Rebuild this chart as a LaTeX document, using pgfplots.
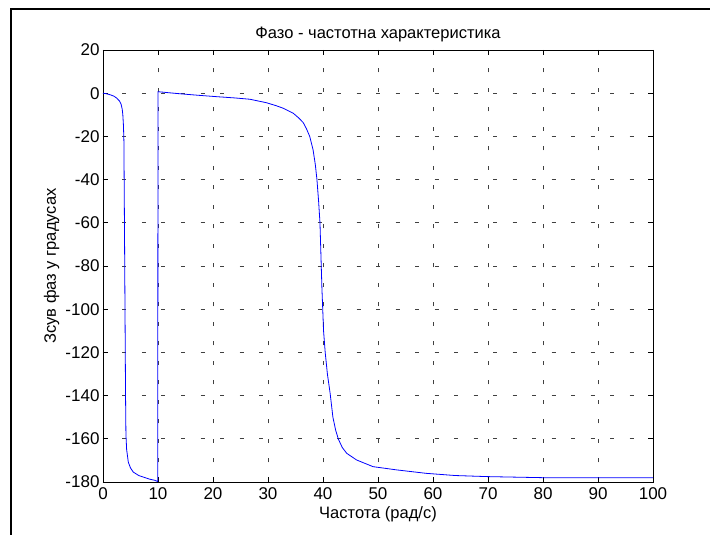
\documentclass[border=0pt]{standalone}
\usepackage{fontspec}
\setmainfont{Liberation Sans}
\usepackage{pgfplots}
\pgfplotsset{compat=1.18}
\begin{document}
\begin{tikzpicture}[x=1pt,y=1pt]
\useasboundingbox (0,0) rectangle (710,535);
\fill[white] (0,0) rectangle (710,535);
\draw[line width=2pt] (11,-20) -- (11,526) -- (730,526);
\begin{axis}[
  at={(103pt,53pt)}, anchor=south west,
  scale only axis,
  width=550pt, height=432pt,
  xmin=0, xmax=100, ymin=-180, ymax=20,
  xtick={0,10,...,100},
  xticklabels={0,10,20,30,40,50,60,70,80,90,100},
  ytick={-180,-160,...,20},
  yticklabels={-180,-160,-140,-120,-100,-80,-60,-40,-20,0,20},
  tick align=inside, tick pos=both,
  major tick length=5pt,
  every tick/.style={black, line width=0.6pt},
  axis line style={line width=0.8pt},
  grid=major,
  major grid style={black!75, line width=0.6pt, dash pattern=on 4pt off 15.5pt},
  font=\fontsize{16.5}{19}\selectfont,
  ticklabel style={font=\fontsize{17}{20}\selectfont},
  xticklabel style={yshift=-2pt},
  title={Фазо - частотна характеристика},
  title style={at={(axis description cs:0.5,1)}, anchor=base, yshift=5pt},
  xlabel={Частота (рад/с)},
  xlabel style={at={(axis description cs:0.5,0)}, anchor=base, yshift=-37pt},
  ylabel={Зсув фаз у градусах},
  ylabel style={at={(axis description cs:-0.0855,0.5)}, anchor=base},
]
\addplot[blue, line width=0.8pt] coordinates {
(0,0) (0.5,-0.2) (1,-0.5) (1.5,-0.9) (2,-1.4) (2.5,-2.3) (3,-3.6) (3.3,-5.2)
(3.5,-7.5) (3.6,-9.8) (3.72,-15) (3.8,-22) (3.9,-60) (4.0,-100) (4.1,-140)
(4.17,-158) (4.3,-165) (4.6,-170.8) (5,-173.5) (5.5,-175.4) (6.5,-177)
(7.3,-177.7) (8.5,-178.7) (9.4,-179.2) (9.95,-179.8)
(10.0,0.7) (12,0.2) (14.6,-0.4) (17,-0.9) (20.6,-1.6) (24,-2.2) (26.7,-2.8)
(29.7,-4.4) (31.5,-5.8) (32.8,-7.0) (34.6,-9.3) (35.6,-11.5) (36.4,-13.6)
(37,-16.5) (37.6,-20.1) (38.2,-26.3) (38.6,-33) (38.9,-40) (39.2,-50)
(39.45,-60) (39.8,-90) (40.1,-110) (40.4,-120) (40.8,-130) (41.3,-139)
(41.8,-150) (42.3,-156) (42.8,-160.2) (43.5,-164) (44.3,-166.7) (46.1,-169.8) (49.1,-172.9)
(53.4,-174.4) (58.8,-176) (64,-177) (69.8,-177.5) (80,-178) (100,-178)
};
\end{axis}
\end{tikzpicture}
\end{document}
